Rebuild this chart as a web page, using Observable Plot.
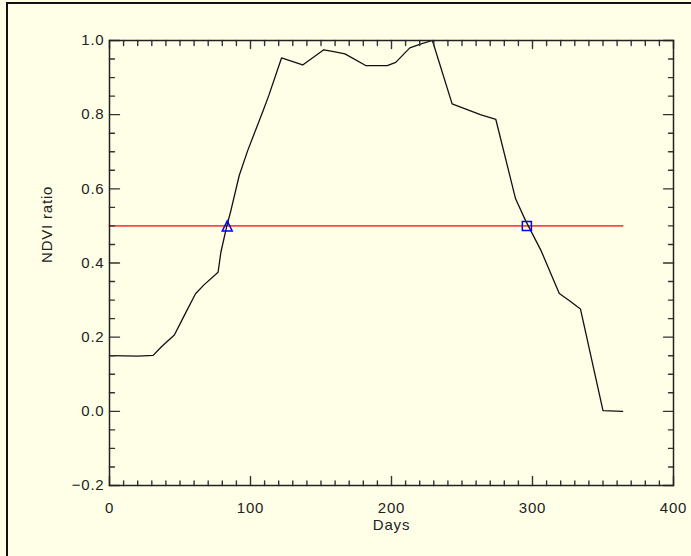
<!DOCTYPE html>
<html><head><meta charset="utf-8">
<script src="https://cdn.jsdelivr.net/npm/d3@7"></script>
<script src="https://cdn.jsdelivr.net/npm/@observablehq/plot@0.6"></script>
<style>
html,body{margin:0;padding:0;background:#ffffe8;}
#wrap{position:relative;width:691px;height:556px;overflow:hidden;background:#ffffe8;}
#wrap svg{position:absolute;left:0;top:0;}
#border{position:absolute;left:6px;top:2px;width:700px;height:600px;border-left:2px solid #111;border-top:2px solid #111;pointer-events:none;}
</style></head><body>
<div id="wrap"></div>
<script>
// NDVI curve
const days = [1, 20, 31, 37, 46, 53, 61, 67, 77, 79, 83, 86, 92, 98, 109, 113, 122, 137, 152, 159, 167, 182, 197, 203, 213, 221, 229, 243, 263, 274, 288, 295, 306, 319, 326, 334, 350, 364];
const ndvi = [0.15, 0.149, 0.151, 0.175, 0.206, 0.258, 0.317, 0.341, 0.375, 0.429, 0.497, 0.54, 0.636, 0.703, 0.811, 0.852, 0.953, 0.934, 0.975, 0.970, 0.964, 0.932, 0.932, 0.941, 0.980, 0.991, 1.0, 0.829, 0.80, 0.787, 0.573, 0.515, 0.434, 0.318, 0.299, 0.276, 0.002, 0.0];
// threshold line
const thresholdDays = [0, 364];
const thresholdValue = [0.5, 0.5];
// markers
const startDay = [83.5];
const endDay = [296];
const markerValue = 0.5;
// ticks
const xMajor = [0, 100, 200, 300, 400];
const xMinor = d3.range(10, 400, 10).filter(d => d % 100 !== 0);
const yMajor = [-0.2, 0.0, 0.2, 0.4, 0.6, 0.8, 1.0];
const yMinor = [-0.15, -0.1, -0.05, 0.05, 0.1, 0.15, 0.25, 0.3, 0.35, 0.45, 0.5, 0.55, 0.65, 0.7, 0.75, 0.85, 0.9, 0.95];
const xLabel = "Days";
const yLabel = "NDVI ratio";

const data = days.map((d, i) => ({day: d, ndvi: ndvi[i]}));
const thr = thresholdDays.map((d, i) => ({day: d, v: thresholdValue[i]}));

const tickShape = {draw(ctx, l) { ctx.moveTo(0, 0); ctx.lineTo(0, -l); }};
const triSym = {draw(ctx, size) { const s = Math.sqrt(size); ctx.moveTo(0, -s/2); ctx.lineTo(s/2, s/2); ctx.lineTo(-s/2, s/2); ctx.closePath(); }};
const tk = {shape: tickShape, anchor: "start", stroke: "#333", strokeWidth: 1.4};
const font = {fontSize: 15, fill: "#222"};

const chart = Plot.plot({
  width: 691, height: 556,
  marginLeft: 109, marginRight: 18, marginTop: 40, marginBottom: 71,
  x: {domain: [0, 400], axis: null},
  y: {domain: [-0.2, 1.0], axis: null},
  style: {background: "transparent", fontFamily: "'Liberation Sans', Arial, sans-serif", fontSize: "15px", letterSpacing: "0.8px", overflow: "visible"},
  marks: [
    Plot.line(thr, {x: "day", y: "v", stroke: "#ff4545", strokeWidth: 1.6}),
    Plot.line(data, {x: "day", y: "ndvi", stroke: "#111", strokeWidth: 1.3}),
    Plot.dot(startDay, {x: d => d, y: () => markerValue, symbol: triSym, r: 5.6, stroke: "#0000ff", fill: "none", strokeWidth: 1.5}),
    Plot.dot(endDay, {x: d => d, y: () => markerValue, symbol: "square", r: 5.1, stroke: "#0000ff", fill: "none", strokeWidth: 1.5}),
    // bottom ticks
    Plot.vector(xMajor, {...tk, x: d => d, y: -0.2, length: 9, rotate: 0}),
    Plot.vector(xMinor, {...tk, x: d => d, y: -0.2, length: 4.5, rotate: 0}),
    // top ticks
    Plot.vector(xMajor, {...tk, x: d => d, y: 1.0, length: 8, rotate: 180}),
    Plot.vector(xMinor, {...tk, x: d => d, y: 1.0, length: 5, rotate: 180}),
    // left ticks
    Plot.vector(yMajor, {...tk, x: 0, y: d => d, length: 10, rotate: 90}),
    Plot.vector(yMinor, {...tk, x: 0, y: d => d, length: 5, rotate: 90}),
    // right ticks
    Plot.vector(yMajor, {...tk, x: 400, y: d => d, length: 10, rotate: -90}),
    Plot.vector(yMinor, {...tk, x: 400, y: d => d, length: 5, rotate: -90}),
    Plot.frame({stroke: "#222", strokeWidth: 1.5}),
    // tick labels
    Plot.text(xMajor, {...font, x: d => d, y: -0.2, text: d => String(d), lineAnchor: "top", dy: 17}),
    Plot.text(yMajor, {...font, x: 0, y: d => d, text: d => d3.format(".1f")(d), textAnchor: "end", dx: -5}),
    // axis titles
    Plot.text([xLabel], {...font, frameAnchor: "bottom", text: d => d, dy: 44.5}),
    Plot.text([yLabel], {...font, frameAnchor: "left", text: d => d, rotate: -90, dx: -62})
  ]
});
const wrap = document.getElementById("wrap");
wrap.appendChild(chart);
const b = document.createElement("div"); b.id = "border"; wrap.appendChild(b);
</script>
</body></html>
